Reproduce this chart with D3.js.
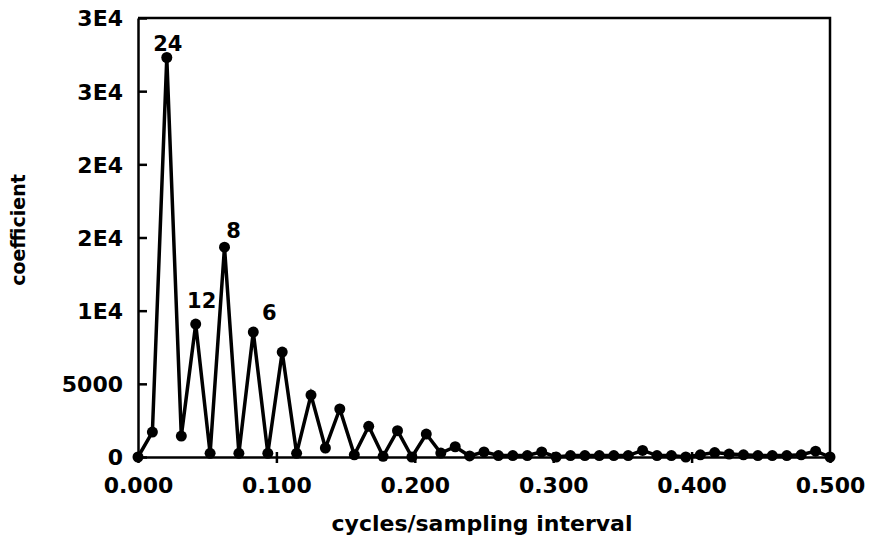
<!DOCTYPE html>
<html lang="en-us">
<head>
<meta charset="utf-8">
<title>coefficient vs cycles/sampling interval</title>
<script src="https://cdn.jsdelivr.net/npm/d3@7"></script>
<style type="text/css">
	body { margin: 0; background: #fff; }
	text { font-family: "DejaVu Sans", sans-serif; font-weight: bold; fill: #000; }
	.axis path, .axis line { stroke: #000; stroke-width: 2.5; fill: none; }
	.axis text { font-size: 22px; }
</style>
</head>
<body>
<svg id="chart" width="872" height="545"></svg>
<script>
// frequency (cycles / sampling interval)
var freqs = [0, 0.0104, 0.0208, 0.0313, 0.0417, 0.0521, 0.0625, 0.0729, 0.0833, 0.0938,
	0.1042, 0.1146, 0.125, 0.1354, 0.1458, 0.1563, 0.1667, 0.1771, 0.1875, 0.1979,
	0.2083, 0.2188, 0.2292, 0.2396, 0.25, 0.2604, 0.2708, 0.2813, 0.2917, 0.3021,
	0.3125, 0.3229, 0.3333, 0.3438, 0.3542, 0.3646, 0.375, 0.3854, 0.3958, 0.4063,
	0.4167, 0.4271, 0.4375, 0.4479, 0.4583, 0.4688, 0.4792, 0.4896, 0.5];
var coefs = [0, 1700, 27300, 1430, 9085, 250, 14340, 250, 8540, 250,
	7170, 250, 4235, 615, 3280, 150, 2100, 50, 1800, 0,
	1570, 270, 700, 70, 350, 100, 100, 100, 350, 0,
	100, 100, 100, 100, 100, 450, 100, 100, 0, 150,
	300, 200, 150, 100, 100, 100, 150, 400, 0];
// peak labels (index into freqs, text)
var peakIdx = [2, 4, 6, 8];
var peakText = ["24", "12", "8", "6"];
var xTicks = [0, 0.1, 0.2, 0.3, 0.4, 0.5];
var xTickLabels = ["0.000", "0.100", "0.200", "0.300", "0.400", "0.500"];
var yTicks = [0, 5000, 10000, 15000, 20000, 25000, 30000];
var yTickLabels = ["0", "5000", "1E4", "2E4", "2E4", "3E4", "3E4"];

var svg = d3.select("#chart"),
	margin = {top: 18, right: 42, bottom: 88, left: 138},
	width = +svg.attr("width") - margin.left - margin.right,
	height = +svg.attr("height") - margin.top - margin.bottom,
	g = svg.append("g").attr("transform", "translate(" + margin.left + "," + margin.top + ")");

var x = d3.scaleLinear().domain([0, 0.5]).range([0, width]);
var y = d3.scaleLinear().domain([0, 30000]).range([height, 0]);

var data = freqs.map(function(f, i) { return {f: f, v: coefs[i]}; });

// box: top and right sides
g.append("path")
	.attr("d", "M0,0H" + width + "V" + height)
	.attr("fill", "none")
	.attr("stroke", "#000")
	.attr("stroke-width", 2.5);

// x axis, ticks cross the line
var xAxis = g.append("g")
	.attr("class", "axis")
	.attr("transform", "translate(0," + height + ")")
	.call(d3.axisBottom(x).tickValues(xTicks)
		.tickFormat(function(d, i) { return xTickLabels[i]; })
		.tickSizeInner(6).tickSizeOuter(0).tickPadding(14));
xAxis.selectAll(".tick line").attr("y1", -5);

// y axis
var yAxis = g.append("g")
	.attr("class", "axis")
	.call(d3.axisLeft(y).tickValues(yTicks)
		.tickFormat(function(d, i) { return yTickLabels[i]; })
		.tickSizeInner(6).tickSizeOuter(0).tickPadding(9));
yAxis.selectAll(".tick line").attr("x2", 9);
yAxis.selectAll(".tick text").attr("dy", "0.36em");

var line = d3.line()
	.x(function(d) { return x(d.f); })
	.y(function(d) { return y(d.v); });

g.append("path")
	.datum(data)
	.attr("fill", "none")
	.attr("stroke", "#000")
	.attr("stroke-width", 3.5)
	.attr("stroke-linejoin", "miter")
	.attr("d", line);

g.selectAll(".dot")
	.data(data)
	.enter().append("circle")
	.attr("class", "dot")
	.attr("cx", function(d) { return x(d.f); })
	.attr("cy", function(d) { return y(d.v); })
	.attr("r", 5.5)
	.attr("fill", "#000");

// label offsets from the point
var labelDx = [1, 6, 9, 16];
var labelDy = [-7, -16, -9, -12];
g.selectAll(".peak")
	.data(peakIdx)
	.enter().append("text")
	.attr("class", "peak")
	.attr("x", function(k, i) { return x(freqs[k]) + labelDx[i]; })
	.attr("y", function(k, i) { return y(coefs[k]) + labelDy[i]; })
	.attr("text-anchor", "middle")
	.style("font-size", "21px")
	.text(function(k, i) { return peakText[i]; });

// axis titles
svg.append("text")
	.attr("x", margin.left + width / 2 - 2)
	.attr("y", 531)
	.attr("text-anchor", "middle")
	.style("font-size", "22px")
	.text("cycles/sampling interval");

svg.append("text")
	.attr("transform", "translate(25," + (margin.top + 212) + ") rotate(-90)")
	.attr("text-anchor", "middle")
	.style("font-size", "19px")
	.text("coefficient");
</script>
</body>
</html>
